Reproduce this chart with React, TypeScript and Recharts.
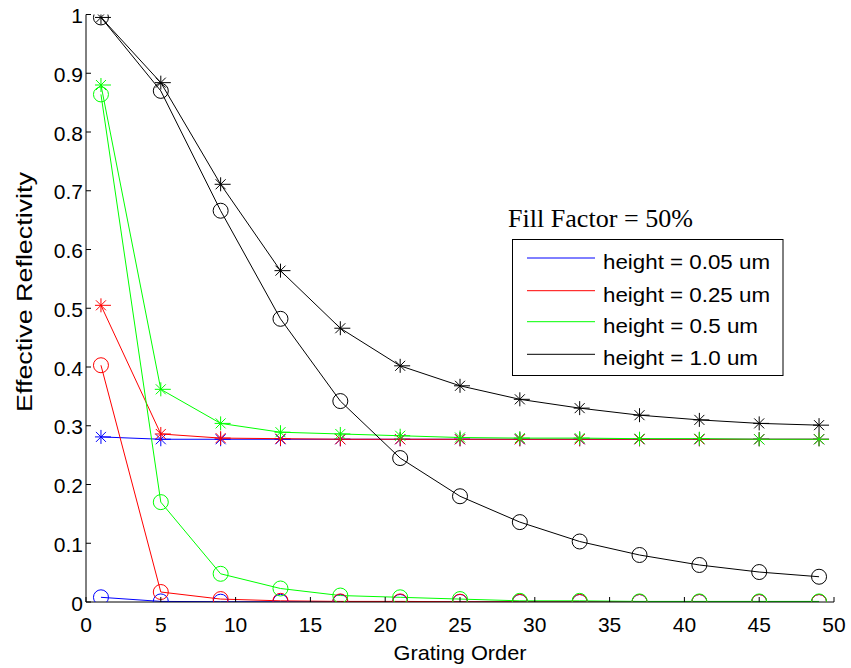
import React from "react";
import { LineChart, Line, XAxis, YAxis } from "recharts";

// Grating orders (x)
const orders = [1, 5, 9, 13, 17, 21, 25, 29, 33, 37, 41, 45, 49];

// height = 0.05 um
const blueStar = [0.281, 0.277, 0.277, 0.277, 0.277, 0.277, 0.277, 0.277, 0.277, 0.277, 0.277, 0.277, 0.277];
const blueCircle = [0.008, 0.001, 0.0005, 0.0003, 0.0002, 0.0001, 0.0001, 0, 0, 0, 0, 0, 0];
// height = 0.25 um
const redStar = [0.505, 0.286, 0.279, 0.278, 0.277, 0.277, 0.277, 0.277, 0.277, 0.277, 0.277, 0.277, 0.277];
const redCircle = [0.403, 0.017, 0.005, 0.002, 0.001, 0.001, 0.0005, 0.0003, 0.0002, 0.0001, 0.0001, 0, 0];
// height = 0.5 um
const greenStar = [0.88, 0.362, 0.304, 0.289, 0.286, 0.283, 0.28, 0.279, 0.279, 0.278, 0.278, 0.277, 0.277];
const greenCircle = [0.864, 0.17, 0.048, 0.023, 0.011, 0.008, 0.005, 0.002, 0.002, 0.001, 0.001, 0.001, 0.001];
// height = 1.0 um
const blackStar = [0.995, 0.884, 0.711, 0.564, 0.466, 0.402, 0.368, 0.345, 0.33, 0.318, 0.31, 0.304, 0.301];
const blackCircle = [0.995, 0.87, 0.666, 0.482, 0.342, 0.245, 0.18, 0.136, 0.103, 0.08, 0.063, 0.051, 0.043];

const xTicks = [0, 5, 10, 15, 20, 25, 30, 35, 40, 45, 50];
const yTicks = [0, 0.1, 0.2, 0.3, 0.4, 0.5, 0.6, 0.7, 0.8, 0.9, 1];

const legendLabels = ["height = 0.05 um", "height = 0.25 um", "height = 0.5 um", "height = 1.0 um"];
const legendColors = ["#0000ff", "#ff0000", "#00ff00", "#000000"];
const legendTitle = "Fill Factor = 50%";
const xLabel = "Grating Order";
const yLabel = "Effective Reflectivity";

const data = orders.map((o, i) => ({
  order: o,
  bs: blueStar[i],
  bc: blueCircle[i],
  rs: redStar[i],
  rc: redCircle[i],
  gs: greenStar[i],
  gc: greenCircle[i],
  ks: blackStar[i],
  kc: blackCircle[i],
}));

const series = [
  { key: "bs", color: "#0000ff", marker: "star" },
  { key: "bc", color: "#0000ff", marker: "circle" },
  { key: "rs", color: "#ff0000", marker: "star" },
  { key: "rc", color: "#ff0000", marker: "circle" },
  { key: "gs", color: "#00ff00", marker: "star" },
  { key: "gc", color: "#00ff00", marker: "circle" },
  { key: "ks", color: "#000000", marker: "star" },
  { key: "kc", color: "#000000", marker: "circle" },
];

const FONT = "'Liberation Sans', Arial, Helvetica, sans-serif";

const makeDot = (color: string, marker: string) => (p: any) => {
  const { cx, cy, index } = p;
  const k = `${marker}-${color}-${index}`;
  if (cx == null || cy == null) return <g key={k} />;
  if (marker === "circle") {
    return <circle key={k} cx={cx} cy={cy} r={7.5} fill="none" stroke={color} strokeWidth={1} />;
  }
  return (
    <g key={k} stroke={color} strokeWidth={1} fill="none">
      <line x1={cx} y1={cy - 7} x2={cx} y2={cy + 7} />
      <line x1={cx - 6} y1={cy} x2={cx + 10} y2={cy} />
      <line x1={cx - 5} y1={cy - 5} x2={cx + 5} y2={cy + 5} />
      <line x1={cx - 5} y1={cy + 5} x2={cx + 5} y2={cy - 5} />
    </g>
  );
};

const fmt = (v: number) => String(Math.round(v * 10) / 10);

const YTick = (props: any) => {
  const { x, y, payload } = props;
  return (
    <g>
      <line x1={x} y1={y} x2={x + 5} y2={y} stroke="#000" strokeWidth={1} />
      <text x={x - 3} y={y + 8.5} textAnchor="end" fontSize={21} fontFamily={FONT} fill="#000">
        {fmt(payload.value)}
      </text>
    </g>
  );
};

const XTick = (props: any) => {
  const { x, y, payload } = props;
  return (
    <g>
      <line x1={x} y1={y} x2={x} y2={y - 5} stroke="#000" strokeWidth={1} />
      <text x={x} y={y + 30} textAnchor="middle" fontSize={21} fontFamily={FONT} fill="#000">
        {fmt(payload.value)}
      </text>
    </g>
  );
};

const XLabelEl = () => (
  <text x={460} y={660} textAnchor="middle" fontSize={21} fontFamily={FONT} fill="#000" textLength={133} lengthAdjust="spacingAndGlyphs">
    {xLabel}
  </text>
);

const YLabelEl = () => (
  <text
    transform="translate(31.5,292) rotate(-90)"
    x={0}
    y={0}
    textAnchor="middle"
    fontSize={22}
    fontFamily={FONT}
    fill="#000"
    textLength={240}
    lengthAdjust="spacingAndGlyphs"
  >
    {yLabel}
  </text>
);

const legendRows = [258, 290.7, 321.7, 354.3];
const legendWidths = [167, 167, 155, 155];

export default function App() {
  return (
    <div style={{ position: "absolute", left: 0, top: 0, width: 851, height: 668, background: "#fff" }}>
      <LineChart
        width={851}
        height={668}
        data={data}
        margin={{ top: 14.5, right: 17, left: 0, bottom: 0 }}
      >
        <XAxis
          dataKey="order"
          type="number"
          domain={[0, 50]}
          ticks={xTicks}
          height={66}
          tickSize={0}
          tickMargin={0}
          tickLine={false}
          axisLine={{ stroke: "#000", strokeWidth: 1 }}
          tick={<XTick />}
          interval={0}
          allowDataOverflow
          label={<XLabelEl />}
        />
        <YAxis
          type="number"
          domain={[0, 1]}
          ticks={yTicks}
          width={86}
          tickSize={0}
          tickMargin={0}
          tickLine={false}
          axisLine={{ stroke: "#000", strokeWidth: 1 }}
          tick={<YTick />}
          interval={0}
          allowDataOverflow
          label={<YLabelEl />}
        />
        {series.map((s) => (
          <Line
            key={s.key}
            dataKey={s.key}
            type="linear"
            stroke={s.color}
            strokeWidth={1}
            dot={makeDot(s.color, s.marker)}
            activeDot={false}
            isAnimationActive={false}
          />
        ))}
      </LineChart>
      <svg
        width={851}
        height={668}
        style={{ position: "absolute", left: 0, top: 0, pointerEvents: "none" }}
      >
        <text
          x={508}
          y={227}
          fontSize={26}
          fontFamily="'Liberation Serif', 'Times New Roman', serif"
          fill="#000"
          textLength={185}
          lengthAdjust="spacingAndGlyphs"
        >
          {legendTitle}
        </text>
        <rect x={512.5} y={239.5} width={270.5} height={136} fill="#fff" stroke="#000" strokeWidth={1} />
        {legendLabels.map((lab, i) => (
          <g key={lab}>
            <line x1={527} y1={legendRows[i]} x2={595} y2={legendRows[i]} stroke={legendColors[i]} strokeWidth={1} />
            <text
              x={603}
              y={legendRows[i] + 11}
              fontSize={20.5}
              fontFamily={FONT}
              fill="#000"
              textLength={legendWidths[i]}
              lengthAdjust="spacingAndGlyphs"
            >
              {lab}
            </text>
          </g>
        ))}
      </svg>
    </div>
  );
}
